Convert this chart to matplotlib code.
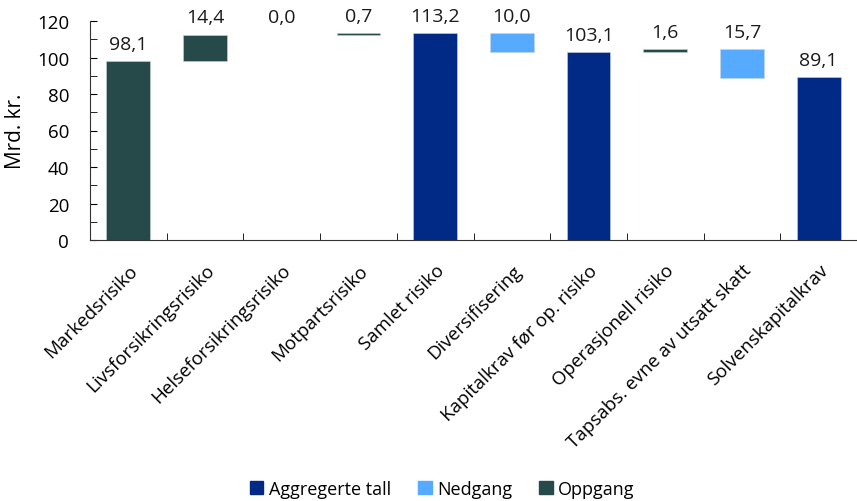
import matplotlib.pyplot as plt
from matplotlib.patches import Patch

plt.rcParams['font.family'] = ['Open Sans', 'DejaVu Sans']

categories = ["Markedsrisiko", "Livsforsikringsrisiko", "Helseforsikringsrisiko",
              "Motpartsrisiko", "Samlet risiko", "Diversifisering",
              "Kapitalkrav før op. risiko", "Operasjonell risiko",
              "Tapsabs. evne av utsatt skatt", "Solvenskapitalkrav"]
values = [98.1, 14.4, 0.0, 0.7, 113.2, 10.0, 103.1, 1.6, 15.7, 89.1]
kinds = ["up", "up", "up", "up", "total", "down", "total", "up", "down", "total"]

colors = {"total": "#002a85", "down": "#56aaff", "up": "#264a4a"}
legend_names = [("total", "Aggregerte tall"), ("down", "Nedgang"), ("up", "Oppgang")]

# running totals for the waterfall
bottoms, heights, tops = [], [], []
running = 0.0
for v, k in zip(values, kinds):
    if k == "total":
        b, running = 0.0, v
    elif k == "up":
        b = running
        running += v
    else:
        running -= v
        b = running
    bottoms.append(b)
    heights.append(v)
    tops.append(b + v)

fig = plt.figure(figsize=(8.57, 5.02), dpi=100)
ax = fig.add_axes([90 / 857, (502 - 241) / 502, (857 - 90) / 857, (241 - 22) / 502])

x = range(len(categories))
edges = ["#c8d4dc" if h > 0 else "none" for h in heights]
ax.bar(x, heights, bottom=bottoms, width=0.57,
       color=[colors[k] for k in kinds], edgecolor=edges, linewidth=0.4)

for i, (t, v) in enumerate(zip(tops, values)):
    ax.annotate(f"{v:.1f}".replace(".", ","), (i, t), xytext=(0, 6),
                textcoords="offset points", ha="center", va="bottom",
                fontsize=14, color="#1a1a1a", annotation_clip=False)

ax.set_ylim(0, 120)
ax.set_xlim(-0.5, (857 - 90) / 77.6 - 0.5)
ax.set_yticks(range(0, 121, 20))
ax.set_yticks(range(0, 121, 10), minor=True)
ax.tick_params(axis="y", which="both", direction="in", length=5, labelsize=13.5, pad=15)
ax.set_ylabel("Mrd. kr.", fontsize=15)
ax.yaxis.set_label_coords(-0.083, 0.5)

ax.set_xticks([i + 0.5 for i in range(len(categories))], minor=True)
ax.set_xticks(list(x))
ax.set_xticklabels(categories, rotation=45, ha="right", va="top",
                   rotation_mode="anchor", fontsize=13.5)
ax.tick_params(axis="x", which="major", length=0, pad=15)
ax.tick_params(axis="x", which="minor", direction="in", length=5)

for s in ["top", "right"]:
    ax.spines[s].set_visible(False)
for s in ["left", "bottom"]:
    ax.spines[s].set_color("#333333")

handles = [Patch(color=colors[k], label=n) for k, n in legend_names]
fig.legend(handles=handles, loc="center", bbox_to_anchor=(0.516, 12 / 502),
           ncol=3, frameon=False, fontsize=13, handlelength=0.75, handleheight=0.75,
           handletextpad=0.3, columnspacing=1.5)

fig.savefig("out.png", dpi=100)
